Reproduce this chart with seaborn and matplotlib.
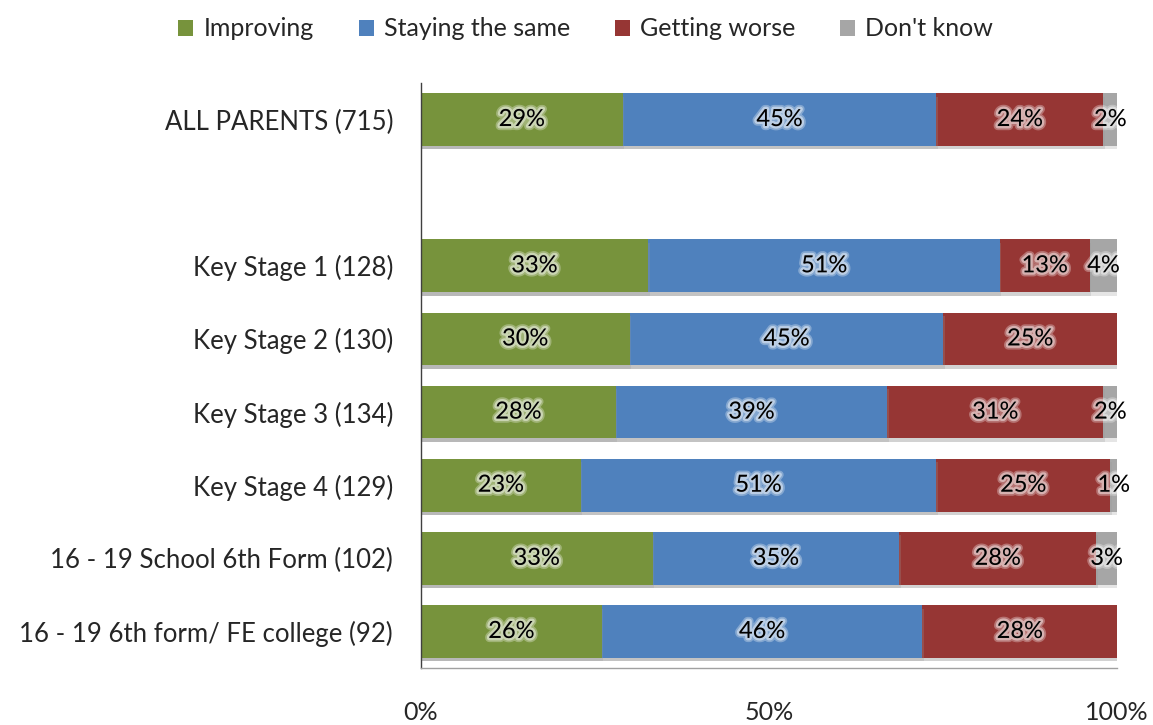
import numpy as np
import pandas as pd
import matplotlib
matplotlib.use("Agg")
import matplotlib.pyplot as plt
import matplotlib.patheffects as pe
from matplotlib.patches import Patch
import seaborn as sns

categories = [
    "ALL PARENTS (715)",
    " ",
    "Key Stage 1 (128)",
    "Key Stage 2 (130)",
    "Key Stage 3 (134)",
    "Key Stage 4 (129)",
    "16 - 19 School 6th Form (102)",
    "16 - 19 6th form/ FE college (92)",
]
improving = [29, None, 33, 30, 28, 23, 33, 26]
staying = [45, None, 51, 45, 39, 51, 35, 46]
worse = [24, None, 13, 25, 31, 25, 28, 28]
dont_know = [2, None, 4, 0, 2, 1, 3, 0]

series_names = ["Improving", "Staying the same", "Getting worse", "Don't know"]
colors = ["#77933C", "#4F81BD", "#963634", "#A6A6A6"]

sns.set_theme(style="white")
plt.rcParams["font.family"] = ["Lato", "DejaVu Sans"]

rows = []
for i, cat in enumerate(categories):
    if improving[i] is None:
        continue
    vals = [improving[i], staying[i], worse[i], dont_know[i]]
    rows.append([cat] + vals)
df = pd.DataFrame(rows, columns=["category"] + series_names)

# 100% stacked: scale each row to its total
totals = df[series_names].sum(axis=1)
shares = df[series_names].div(totals, axis=0) * 100
cum = shares.cumsum(axis=1)

fig = plt.figure(figsize=(11.53, 7.25), dpi=100)
ax = fig.add_axes([0.365, 0.0786, 0.604, 0.807])

shadow = [pe.SimplePatchShadow(offset=(1, -2.5), shadow_rgbFace="#9a9a9a", alpha=0.25), pe.Normal()]

for k in range(len(series_names) - 1, -1, -1):
    plot_df = pd.DataFrame({"category": df["category"], "end": cum[series_names[k]]})
    sns.barplot(data=plot_df, x="end", y="category", order=categories,
                color=colors[k], saturation=1, width=0.72, orient="h",
                ax=ax, edgecolor="none", linewidth=0)

for p in ax.patches:
    p.set_path_effects(shadow)

# soft white halo behind the value labels
glow = [pe.Stroke(linewidth=6, foreground="white", alpha=0.3),
        pe.Stroke(linewidth=3.5, foreground="white", alpha=0.45),
        pe.Normal()]
pos = {c: i for i, c in enumerate(categories)}
for r in range(len(df)):
    y = pos[df.loc[r, "category"]]
    start = 0.0
    for name in series_names:
        v = df.loc[r, name]
        w = shares.loc[r, name]
        if v > 0:
            ax.text(start + w / 2, y, f"{v}%", ha="center", va="center",
                    fontsize=17, color="black", path_effects=glow)
        start += w

ax.set_xlim(0, 100)
ax.set_ylim(len(categories) - 0.5, -0.5)
ax.set_xticks([0, 50, 100])
ax.set_xticklabels(["0%", "50%", "100%"])
ax.set_xlabel("")
ax.set_ylabel("")
ax.tick_params(axis="x", length=0, pad=24, labelsize=18)
ax.tick_params(axis="y", length=0, pad=20, labelsize=18.5)

for side in ["top", "right"]:
    ax.spines[side].set_visible(False)
ax.spines["left"].set_color("#404040")
ax.spines["left"].set_linewidth(1.0)
ax.spines["bottom"].set_color("#a0a0a0")
ax.spines["bottom"].set_linewidth(1.0)
ax.spines["bottom"].set_bounds(0, 100)

handles = [Patch(facecolor=c, edgecolor="none") for c in colors]
fig.legend(handles, series_names, loc="center", bbox_to_anchor=(0.508, 0.96),
           ncol=4, frameon=False, fontsize=18, handlelength=0.6, handleheight=0.6,
           handletextpad=0.4, columnspacing=1.8)

fig.savefig("out.png", dpi=100)
